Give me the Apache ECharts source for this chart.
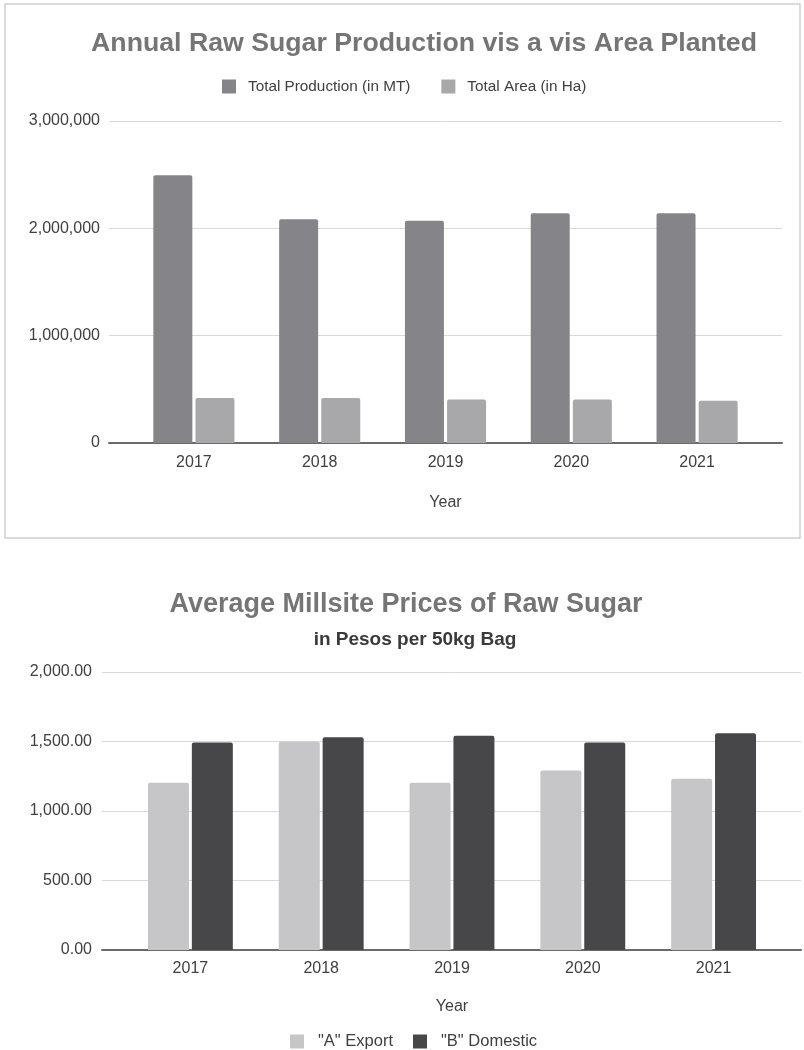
<!DOCTYPE html>
<html>
<head>
<meta charset="utf-8">
<script src="https://cdn.jsdelivr.net/npm/echarts@6/dist/echarts.min.js"></script>
<style>
  html, body { margin: 0; padding: 0; background: #fff; }
  #main { width: 804px; height: 1050px; }
</style>
</head>
<body>
<div id="main"></div>
<script>
var years = ['2017', '2018', '2019', '2020', '2021'];
// top chart
var totalProduction = [2495000, 2085000, 2070000, 2140000, 2140000];
var totalArea = [419000, 419000, 406000, 406000, 394000];
var prodTicks = [0, 1000000, 2000000, 3000000];
// bottom chart
var exportA = [1203, 1499, 1203, 1291, 1232];
var domesticB = [1492, 1530, 1542, 1492, 1559];
var priceTicks = [0, 500, 1000, 1500, 2000];

var font = 'Liberation Sans, Arial, sans-serif';
var chart = echarts.init(document.getElementById('main'));

var gridLine = { lineStyle: { color: '#d8d8d8', width: 1 } };
var base = { show: true, lineStyle: { color: '#6a6a6a', width: 2 } };

var option = {
  backgroundColor: '#fff',
  textStyle: { fontFamily: font },
  graphic: [{
    type: 'rect',
    shape: { x: 5, y: 4, width: 795, height: 534 },
    style: { fill: 'none', stroke: '#cfcfcf', lineWidth: 1.5 },
    silent: true
  }],
  title: [
    { text: 'Annual Raw Sugar Production vis a vis Area Planted', left: 424, top: 30, textAlign: 'center', padding: 0,
      textStyle: { fontFamily: font, fontSize: 26.7, fontWeight: 'bold', color: '#757575' } },
    { text: 'Average Millsite Prices of Raw Sugar', left: 406, top: 591, textAlign: 'center', padding: 0,
      textStyle: { fontFamily: font, fontSize: 27, fontWeight: 'bold', color: '#757575' } },
    { text: 'in Pesos per 50kg Bag', left: 415, top: 630, textAlign: 'center', padding: 0,
      textStyle: { fontFamily: font, fontSize: 19, fontWeight: 'bold', color: '#3a3a3a' } }
  ],
  legend: [
    { data: ['Total Production (in MT)', 'Total Area (in Ha)'], left: 222, top: 79, padding: 0,
      icon: 'rect', itemWidth: 14, itemHeight: 14, itemGap: 31,
      textStyle: { fontFamily: font, fontSize: 15.3, color: '#404040', padding: [0, 0, 0, 7] } },
    { data: ['"A" Export', '"B" Domestic'], left: 290, top: 1033, padding: 0,
      icon: 'rect', itemWidth: 14, itemHeight: 14, itemGap: 20,
      textStyle: { fontFamily: font, fontSize: 16.5, color: '#404040', padding: [0, 0, 0, 9] } }
  ],
  grid: [
    { left: 109, top: 121, width: 673, height: 322 },
    { left: 131, top: 121, width: 629, height: 322 },
    { left: 102, top: 672, width: 699, height: 278 },
    { left: 125, top: 672, width: 654, height: 278 }
  ],
  xAxis: [
    { gridIndex: 0, type: 'category', data: years, axisLine: base, axisTick: { show: false },
      axisLabel: { show: false }, splitLine: { show: false } },
    { gridIndex: 1, type: 'category', data: years, axisLine: { show: false }, axisTick: { show: false },
      axisLabel: { color: '#404040', fontSize: 16, fontFamily: font, margin: 12 },
      name: 'Year', nameLocation: 'middle', nameGap: 52,
      nameTextStyle: { color: '#404040', fontSize: 16, fontFamily: font } },
    { gridIndex: 2, type: 'category', data: years, axisLine: base, axisTick: { show: false },
      axisLabel: { show: false }, splitLine: { show: false } },
    { gridIndex: 3, type: 'category', data: years, axisLine: { show: false }, axisTick: { show: false },
      axisLabel: { color: '#404040', fontSize: 16, fontFamily: font, margin: 11 },
      name: 'Year', nameLocation: 'middle', nameGap: 49,
      nameTextStyle: { color: '#404040', fontSize: 16, fontFamily: font } }
  ],
  yAxis: [
    { gridIndex: 0, type: 'value', min: prodTicks[0], max: prodTicks[prodTicks.length - 1], interval: prodTicks[1] - prodTicks[0],
      axisLine: { show: false }, axisTick: { show: false }, splitLine: gridLine,
      axisLabel: { color: '#404040', fontSize: 16, fontFamily: font, margin: 9,
        formatter: function (v) { return v.toLocaleString('en-US'); } } },
    { gridIndex: 1, type: 'value', min: prodTicks[0], max: prodTicks[prodTicks.length - 1], show: false, splitLine: { show: false } },
    { gridIndex: 2, type: 'value', min: priceTicks[0], max: priceTicks[priceTicks.length - 1], interval: priceTicks[1] - priceTicks[0],
      axisLine: { show: false }, axisTick: { show: false }, splitLine: gridLine,
      axisLabel: { color: '#404040', fontSize: 16, fontFamily: font, margin: 10,
        formatter: function (v) { return v.toLocaleString('en-US', { minimumFractionDigits: 2, maximumFractionDigits: 2 }); } } },
    { gridIndex: 3, type: 'value', min: priceTicks[0], max: priceTicks[priceTicks.length - 1], show: false, splitLine: { show: false } }
  ],
  series: [
    { name: 'Total Production (in MT)', type: 'bar', xAxisIndex: 1, yAxisIndex: 1, data: totalProduction,
      barWidth: 39, barGap: '8%', itemStyle: { color: '#858589', borderRadius: [2, 2, 0, 0] } },
    { name: 'Total Area (in Ha)', type: 'bar', xAxisIndex: 1, yAxisIndex: 1, data: totalArea,
      barWidth: 39, barGap: '8%', itemStyle: { color: '#a8a8ab', borderRadius: [2, 2, 0, 0] } },
    { name: '"A" Export', type: 'bar', xAxisIndex: 3, yAxisIndex: 3, data: exportA,
      barWidth: 41, barGap: '7%', itemStyle: { color: '#c6c6c8', borderRadius: [2, 2, 0, 0] } },
    { name: '"B" Domestic', type: 'bar', xAxisIndex: 3, yAxisIndex: 3, data: domesticB,
      barWidth: 41, barGap: '7%', itemStyle: { color: '#47474a', borderRadius: [2, 2, 0, 0] } }
  ]
};
chart.setOption(option);
</script>
</body>
</html>
